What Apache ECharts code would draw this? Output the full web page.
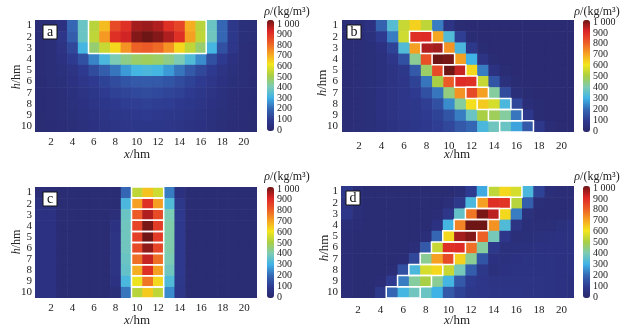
<!DOCTYPE html>
<html><head><meta charset="utf-8">
<script src="https://cdn.jsdelivr.net/npm/echarts@6/dist/echarts.min.js"></script>
<style>html,body{margin:0;padding:0;background:#fff}#c{width:625px;height:331px}</style>
</head><body><div id="c"></div>
<script>
// ---- tick labels ----
const xTicks = [2,4,6,8,10,12,14,16,18,20];
const yTicks = [1,2,3,4,5,6,7,8,9,10];
const cbTicks = [0,100,200,300,400,500,600,700,800,900,1000];
const panelNames = ['a','b','c','d'];

// ---- panel a: density rows h=1..10, columns x=1..21 ----
const a1 = [30,35,60,200,370,520,660,830,880,950,960,940,880,840,680,520,370,200,90,45,35];
const a2 = [30,40,80,180,370,530,710,880,910,980,1000,980,940,880,700,530,380,200,90,45,35];
const a3 = [30,40,70,130,310,460,540,620,720,790,800,780,720,620,530,460,310,150,80,40,30];
const a4 = [30,40,60,100,150,240,320,400,440,470,480,470,440,400,330,250,150,100,60,40,30];
const a5 = [30,40,50,70,100,140,180,220,270,310,320,310,270,220,170,130,100,70,50,40,30];
const a6 = [28,35,45,60,80,100,120,140,160,170,175,170,160,140,120,100,80,60,45,35,28];
const a7 = [28,33,40,55,70,85,100,115,125,135,140,135,125,115,100,85,70,55,40,33,28];
const a8 = [27,32,38,50,60,75,85,95,105,110,115,110,105,95,85,75,60,50,38,32,27];
const a9 = [25,30,35,45,55,65,75,85,90,95,100,95,90,85,75,65,55,45,35,30,25];
const a10 = [25,28,32,40,50,60,65,75,80,85,85,85,80,75,65,60,50,40,32,28,25];

// ---- panel b ----
const b1 = [30,35,60,190,340,540,630,530,230,70,25,20,20,20,20,20,20,20,20,20,20];
const b2 = [30,35,50,100,230,550,880,890,690,330,110,25,20,20,20,20,20,20,20,20,20];
const b3 = [30,35,45,60,120,330,700,940,950,720,320,90,25,20,20,20,20,20,20,20,20];
const b4 = [30,35,45,55,80,150,430,820,1000,990,700,300,70,25,20,20,20,20,20,20,20];
const b5 = [30,35,45,55,70,90,170,470,830,1000,920,620,230,60,25,20,20,20,20,20,20];
const b6 = [30,35,45,55,70,80,120,220,500,800,890,880,540,160,50,25,20,20,20,20,20];
const b7 = [30,35,45,60,70,80,100,150,220,450,720,830,700,420,140,40,25,20,20,20,20];
const b8 = [30,35,45,60,70,80,90,110,150,250,420,610,640,560,320,130,35,25,20,20,20];
const b9 = [30,35,45,60,70,80,90,100,120,160,230,370,500,480,420,220,90,25,20,20,20];
const b10 = [30,35,45,55,65,75,85,95,110,130,170,200,320,380,370,280,170,90,30,20,20];

// ---- panel c ----
const c1 = [30,30,25,25,25,25,25,25,200,530,650,550,230,55,25,25,25,25,25,25,25];
const c2 = [55,55,25,25,25,25,25,25,320,700,880,700,330,90,25,25,25,25,25,25,25];
const c3 = [60,60,25,25,25,25,25,35,370,800,940,830,400,95,25,25,25,25,25,25,25];
const c4 = [60,60,25,25,25,25,25,60,380,840,990,860,410,95,25,25,25,25,25,25,25];
const c5 = [60,60,25,25,25,25,25,70,380,850,1000,860,410,95,25,25,25,25,25,25,25];
const c6 = [60,60,25,25,25,25,25,70,380,830,970,840,410,95,25,25,25,25,25,25,25];
const c7 = [60,60,25,25,25,25,25,70,370,770,920,770,400,95,25,25,25,25,25,25,25];
const c8 = [60,60,25,25,25,25,25,70,360,680,880,700,380,95,25,25,25,25,25,25,25];
const c9 = [60,60,25,25,25,25,25,60,320,590,760,620,330,90,25,25,25,25,25,25,25];
const c10 = [60,60,25,25,25,25,25,35,220,520,640,530,250,80,25,25,25,25,25,25,25];

// ---- panel d ----
const d1 = [90,40,25,25,25,25,25,25,25,25,40,100,290,530,620,560,320,120,40,30,30];
const d2 = [70,35,25,25,25,25,25,25,25,40,90,320,700,880,870,520,180,40,30,30,30];
const d3 = [80,35,25,25,25,25,25,25,30,80,360,760,990,930,620,230,50,30,30,30,40];
const d4 = [40,30,25,25,25,25,25,25,60,310,740,1000,1000,720,330,70,35,35,40,50,60];
const d5 = [30,25,25,25,25,25,25,40,200,620,950,980,790,390,80,40,45,50,55,60,60];
const d6 = [30,25,25,25,25,25,40,170,540,880,890,770,420,90,50,50,55,60,60,60,60];
const d7 = [30,25,25,25,25,30,130,430,700,830,630,430,160,60,55,60,65,65,65,60,60];
const d8 = [30,25,25,25,30,150,320,560,620,540,390,180,90,50,60,65,65,65,65,60,60];
const d9 = [30,25,25,30,100,230,420,500,430,310,170,100,80,70,70,70,70,70,65,60,55];
const d10 = [30,25,25,90,200,310,380,370,300,170,120,90,80,75,75,75,70,70,65,60,55];

// ---- outlined cell blocks: [xFrom, xTo, hFrom, hTo] ----
const boxesA = [[6,16,1,3]];
const boxesB = [[7,8,2,2],[8,9,3,3],[9,10,4,4],[10,11,5,5],[11,12,6,6],[12,13,7,7],[13,15,8,8],[14,16,9,9],[15,17,10,10]];
const boxesC = [[10,12,1,1],[10,12,2,2],[10,12,3,3],[10,12,4,4],[10,12,5,5],[10,12,6,6],[10,12,7,7],[10,12,8,8],[10,12,9,9],[10,12,10,10]];
const boxesD = [[14,16,1,1],[13,15,2,2],[12,14,3,3],[11,13,4,4],[10,12,5,5],[9,11,6,6],[8,10,7,7],[7,9,8,8],[6,8,9,9],[5,7,10,10]];

const palette = ['#29276b','#2e3a8f','#3566b3','#3fb2e6','#7ccbb4','#a9cf45','#f3e61d','#f6a023','#ec5a27','#dc2626','#6e1515'];

const panels = [
  {rows:[a1,a2,a3,a4,a5,a6,a7,a8,a9,a10], boxes:boxesA},
  {rows:[b1,b2,b3,b4,b5,b6,b7,b8,b9,b10], boxes:boxesB},
  {rows:[c1,c2,c3,c4,c5,c6,c7,c8,c9,c10], boxes:boxesC},
  {rows:[d1,d2,d3,d4,d5,d6,d7,d8,d9,d10], boxes:boxesD}
];

// layout (pixels)
const L = [
  {g:{left:35,top:20,width:222,height:112}, xmax:21.25, xm:5, ym:3, cb:{x:267,top:20,h:111,lt:24,lh:106}, cbt:[287,12], xn:[137,155], yn:[17,77], ynSize:12, box:[43,25]},
  {g:{left:342,top:20,width:232,height:112}, xmax:21.1, xm:9, ym:4, cb:{x:583,top:20,h:112,lt:22,lh:109}, cbt:[597,12], xn:[457,155], yn:[323,83], ynSize:13, box:[347,25]},
  {g:{left:35,top:187,width:222,height:111}, xmax:21.2, xm:5, ym:3, cb:{x:267,top:187,h:111,lt:189,lh:108}, cbt:[287,177], xn:[137,321], yn:[17,242], ynSize:12, box:[43,192]},
  {g:{left:341,top:186,width:233,height:112}, xmax:21.1, xm:7, ym:3, cb:{x:583,top:186,h:112,lt:188,lh:109}, cbt:[597,177], xn:[457,321], yn:[325,248], ynSize:13, box:[346,191]}
];

const FONT = 'Liberation Serif';

function toCells(rows){
  const out = [];
  rows.forEach((r, i) => r.forEach((v, j) => out.push([j+1, i+1, v])));
  return out;
}

function cellItem(params, api){
  const x = api.value(0), y = api.value(1);
  const p0 = api.coord([x-0.5, y-0.5]);
  const p1 = api.coord([x+0.5, y+0.5]);
  const rect = {x:Math.min(p0[0],p1[0]), y:Math.min(p0[1],p1[1]),
    width:Math.abs(p1[0]-p0[0])+0.6, height:Math.abs(p1[1]-p0[1])+0.6};
  const cs = params.coordSys;
  const c = echarts.graphic.clipRectByRect(rect, {x:cs.x, y:cs.y, width:cs.width, height:cs.height});
  if (!c) return;
  return {type:'rect', shape:c, style:{fill:api.visual('color')}};
}
function boxItem(params, api){
  const p0 = api.coord([api.value(0)-0.5, api.value(2)-0.5]);
  const p1 = api.coord([api.value(1)+0.5, api.value(3)+0.5]);
  return {type:'rect', z2:10, shape:{x:Math.min(p0[0],p1[0]), y:Math.min(p0[1],p1[1]),
    width:Math.abs(p1[0]-p0[0]), height:Math.abs(p1[1]-p0[1])},
    style:{fill:'none', stroke:'#ffffff', lineWidth:1.5}};
}

const grid = [], xAxis = [], yAxis = [], series = [], visualMap = [], graphic = [];
panels.forEach((p, i) => {
  const l = L[i];
  grid.push(Object.assign({containLabel:false}, l.g));
  xAxis.push({gridIndex:i, type:'value', min:0.5, max:l.xmax,
    axisLine:{show:false}, axisTick:{show:false}, splitLine:{show:false},
    axisLabel:{customValues:xTicks, margin:l.xm, fontSize:11, fontFamily:FONT, color:'#222'}});
  yAxis.push({gridIndex:i, type:'value', min:0.5, max:10.5, inverse:true,
    axisLine:{show:false}, axisTick:{show:false}, splitLine:{show:false},
    axisLabel:{customValues:yTicks, margin:l.ym, fontSize:11, fontFamily:FONT, color:'#222'}});
});
panels.forEach((p, i) => {
  series.push({type:'custom', xAxisIndex:i, yAxisIndex:i, renderItem:cellItem,
    data:toCells(p.rows), silent:true, animation:false});
});
panels.forEach((p, i) => {
  series.push({type:'custom', xAxisIndex:i, yAxisIndex:i, renderItem:boxItem, z:5,
    encode:{x:[0,1], y:[2,3]}, data:p.boxes, silent:true, animation:false});
});
// colorbar label axes
panels.forEach((p, i) => {
  const cb = L[i].cb;
  grid.push({left:cb.x, top:cb.lt, width:7, height:cb.lh});
  xAxis.push({gridIndex:4+i, type:'value', show:false, min:0, max:1});
  yAxis.push({gridIndex:4+i, type:'value', min:0, max:1000, position:'right',
    axisLine:{show:false}, axisTick:{show:false}, splitLine:{show:false},
    axisLabel:{customValues:cbTicks, margin:3, fontSize:10, fontFamily:FONT, color:'#222',
      formatter: v => v === 1000 ? '1 000' : String(v)}});
  visualMap.push({type:'continuous', min:0, max:1000, dimension:2, seriesIndex:i,
    calculable:false, hoverLink:false, itemWidth:7, itemHeight:cb.h, left:cb.x, top:cb.top,
    padding:0, inRange:{color:palette}, textStyle:{fontSize:0}});
});
// texts
panels.forEach((p, i) => {
  const l = L[i];
  graphic.push({type:'text', x:l.cbt[0], y:l.cbt[1], style:{text:'{i|ρ}/(kg/m³)', rich:{i:{fontStyle:'italic', fontFamily:FONT, fontSize:12}},
    font:'12px "Liberation Serif"', fill:'#222', align:'center', verticalAlign:'middle'}});
  graphic.push({type:'text', x:l.xn[0], y:l.xn[1], style:{text:'{i|x}/hm', rich:{i:{fontStyle:'italic', fontFamily:FONT, fontSize:13}},
    font:'13px "Liberation Serif"', fill:'#222', align:'center', verticalAlign:'middle'}});
  graphic.push({type:'text', x:l.yn[0], y:l.yn[1], rotation:Math.PI/2, style:{text:'{i|h}/hm', rich:{i:{fontStyle:'italic', fontFamily:FONT, fontSize:l.ynSize}},
    font:l.ynSize+'px "Liberation Serif"', fill:'#222', align:'center', verticalAlign:'middle'}});
  graphic.push({type:'rect', x:l.box[0], y:l.box[1], z:100, shape:{width:14, height:14},
    style:{fill:'#fff', stroke:'#111', lineWidth:1}});
  graphic.push({type:'text', x:l.box[0]+7, y:l.box[1]+7, z:101, style:{text:panelNames[i],
    font:'14px "Liberation Serif"', fill:'#111', align:'center', verticalAlign:'middle'}});
});

const chart = echarts.init(document.getElementById('c'), null, {renderer:'canvas'});
chart.setOption({animation:false, backgroundColor:'#fff', grid, xAxis, yAxis, series, visualMap, graphic});
</script>
</body></html>
